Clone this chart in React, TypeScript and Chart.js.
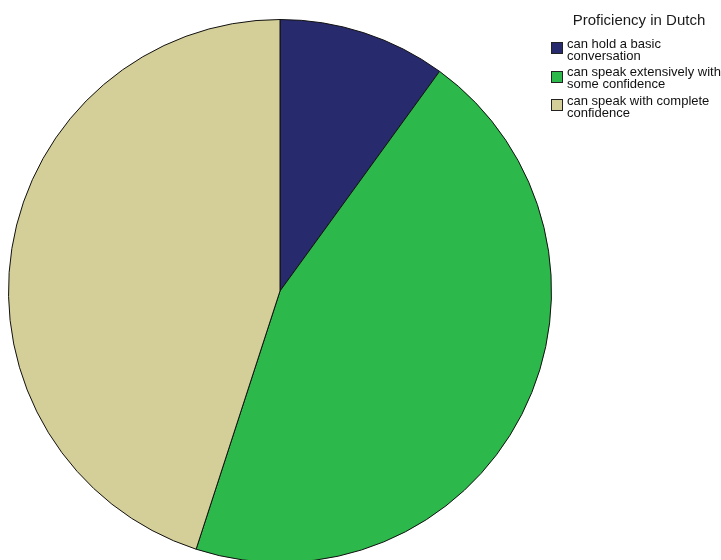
import React, { useEffect, useRef } from "react";
import { Chart, registerables } from "chart.js";

Chart.register(...registerables);

const legendTitle = "Proficiency in Dutch";
const categories: string[][] = [
  ["can hold a basic", "conversation"],
  ["can speak extensively with", "some confidence"],
  ["can speak with complete", "confidence"],
];
const counts: number[] = [2, 9, 9];
const sliceColors: string[] = ["#282A6E", "#2DB84B", "#D4CE99"];

export default function App() {
  const canvasRef = useRef<HTMLCanvasElement | null>(null);

  useEffect(() => {
    const canvas = canvasRef.current;
    if (!canvas) return;
    const chart = new Chart(canvas, {
      type: "pie",
      data: {
        labels: categories.map((c) => c.join(" ")),
        datasets: [
          {
            data: counts,
            backgroundColor: sliceColors,
            borderColor: "#111111",
            borderWidth: 1,
          },
        ],
      },
      options: {
        animation: false,
        responsive: false,
        maintainAspectRatio: false,
        layout: { padding: { left: 8, top: 19, right: 169, bottom: 1 } },
        plugins: {
          legend: { display: false },
          tooltip: { enabled: false },
          title: { display: false },
        },
      },
    });
    return () => chart.destroy();
  }, []);

  return (
    <div
      style={{
        position: "fixed",
        left: 0,
        top: 0,
        width: 721,
        height: 564,
        background: "#ffffff",
        fontFamily: "'Liberation Sans', Arial, sans-serif",
      }}
    >
      <canvas
        ref={canvasRef}
        width={721}
        height={564}
        style={{ position: "absolute", left: 0, top: 0, width: 721, height: 564 }}
      />
      <div
        style={{
          position: "absolute",
          left: 539,
          width: 200,
          top: 10.5,
          fontSize: 15,
          lineHeight: "17px",
          textAlign: "center",
          color: "#1a1a1a",
          whiteSpace: "nowrap",
        }}
      >
        {legendTitle}
      </div>
      <div style={{ position: "absolute", left: 551, top: 37.5 }}>
        {categories.map((lines, i) => (
          <div
            key={i}
            style={{
              position: "relative",
              height: 28.5,
              whiteSpace: "nowrap",
            }}
          >
            <div
              style={{
                position: "absolute",
                left: 0,
                top: 4.5,
                width: 12,
                height: 12,
                boxSizing: "border-box",
                border: "1px solid #222",
                background: sliceColors[i],
              }}
            />
            <div
              style={{
                position: "absolute",
                left: 16,
                top: 0,
                fontSize: 13,
                lineHeight: "12px",
                color: "#111",
              }}
            >
              {lines.map((l, j) => (
                <div key={j}>{l}</div>
              ))}
            </div>
          </div>
        ))}
      </div>
    </div>
  );
}
